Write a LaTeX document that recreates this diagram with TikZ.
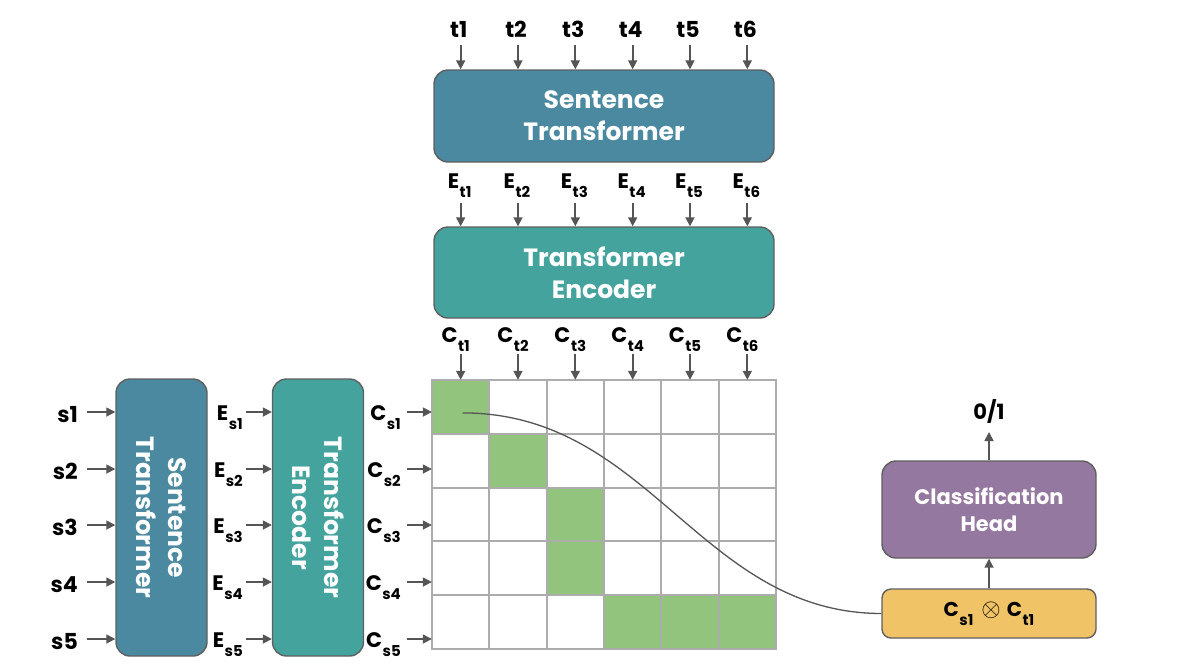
\documentclass[tikz,border=0pt]{standalone}
\usepackage{fontspec}
\setmainfont{Poppins}
\usetikzlibrary{arrows.meta}
\definecolor{stblue}{HTML}{4A89A0}
\definecolor{encteal}{HTML}{45A39E}
\definecolor{headpurple}{HTML}{95789F}
\definecolor{prodyellow}{HTML}{F0C366}
\definecolor{cellgreen}{HTML}{93C47D}
\definecolor{gridgray}{HTML}{ACACAC}
\definecolor{arrowgray}{HTML}{555555}
\definecolor{bordergray}{HTML}{5F5F5F}
\newcommand\subl[2]{#1\kern0.5pt\raisebox{-9pt}{\fontsize{15}{15}\selectfont #2}}
\newcommand\labfont{\fontsize{21}{25}\selectfont\bfseries}
\newcommand\biglabfont{\fontsize{22}{26}\selectfont\bfseries}
\begin{document}
\begin{tikzpicture}[x=1pt,y=-1pt,
  box/.style={draw=bordergray, line width=1.4pt, rounded corners=14pt, text=white,
    align=center, inner sep=0pt},
  bigtext/.style={font=\fontsize{25}{32}\selectfont\bfseries},
  arr/.style={draw=arrowgray, line width=1.7pt, -{Triangle[length=9pt,width=9pt]}},
  lab/.style={font=\labfont, inner sep=0pt},
  biglab/.style={font=\biglabfont, inner sep=0pt},
  cell/.style={fill=white, minimum width=57.33pt, minimum height=53.8pt, inner sep=0pt},
  green/.style={fill=cellgreen},
  gridline/.style={draw=gridgray, line width=1.5pt},
  curve/.style={draw=arrowgray, line width=1.3pt}]
\useasboundingbox (0,0) rectangle (1177,670);

% boxes
\node[box, bigtext, fill=stblue, minimum width=340pt, minimum height=92pt] (tst) at (604,116)
  {Sentence\\Transformer};
\node[box, bigtext, fill=encteal, minimum width=340pt, minimum height=91pt] (tte) at (604,272.5)
  {Transformer\\Encoder};
\node[box, bigtext, fill=stblue, rotate=-90, minimum width=277pt, minimum height=91pt] (lst) at (161.5,517.5)
  {Sentence\\Transformer};
\node[box, bigtext, fill=encteal, rotate=-90, minimum width=277pt, minimum height=91pt] (lte) at (318,517.5)
  {Transformer\\Encoder};
\node[box, font=\fontsize{21}{27}\selectfont\bfseries, fill=headpurple, minimum width=214pt, minimum height=97pt] (head) at (989,509.5)
  {Classification\\Head};
\node[box, rounded corners=9pt, text=black, font=\fontsize{20}{24}\selectfont\bfseries, fill=prodyellow, minimum width=214pt, minimum height=49pt] (prod) at (989,613.5)
  {\subl{C}{s1}\hspace{8pt}{\fontsize{24}{24}\selectfont$\otimes$}\hspace{6pt}\subl{C}{t1}\rule[-8pt]{0pt}{1pt}};

% grid cells (fills)
\foreach \r in {1,...,5}{
  \foreach \c in {1,...,6}{
    \node[cell] (c-\r-\c) at ({432+57.33*(\c-0.5)},{380+53.8*(\r-0.5)}) {};
  }
}
\foreach \r/\c in {1/1,2/2,3/3,4/3,5/4,5/5,5/6}{
  \node[cell, green] (g-\r-\c) at (c-\r-\c) {};
}
% grid lines on top
\foreach \r in {1,...,5}{
  \foreach \c in {1,...,6}{
    \draw[gridline] (c-\r-\c.north west) rectangle (c-\r-\c.south east);
  }
}

% top columns
\foreach \j in {1,...,6}{
  \pgfmathsetmacro\xx{432+57.33*(\j-0.5)}
  \node[biglab, anchor=base] (t\j) at (\xx-2,37) {t\j};
  \coordinate (ta\j) at (\xx,45);
  \draw[arr] (ta\j) -- (ta\j |- tst.north);
  \node[lab, anchor=base] (et\j) at (\xx-1,188) {\subl{E}{t\j}};
  \coordinate (eta\j) at (\xx,203);
  \draw[arr] (eta\j) -- (eta\j |- tte.north);
  \node[lab, anchor=base] (ct\j) at (\xx-5,342) {\subl{C}{t\j}};
  \coordinate (cta\j) at (\xx,354);
  \draw[arr] (cta\j) -- (cta\j |- c-1-\j.north);
}

% left rows (rotated boxes: visual left side is the .south anchor)
\foreach \i/\y in {1/412,2/469,3/525,4/582,5/639}{
  \node[biglab, anchor=base east] (s\i) at (78,\y+10) {s\i};
  \coordinate (sa\i) at (87,\y);
  \draw[arr] (sa\i) -- (sa\i -| lst.south);
  \node[lab, anchor=base east] (es\i) at (243,\y+8) {\subl{E}{s\i}};
  \coordinate (ea\i) at (246,\y);
  \draw[arr] (ea\i) -- (ea\i -| lte.south);
  \node[lab, anchor=base east] (cs\i) at (401,\y+8) {\subl{C}{s\i}};
  \coordinate (ca\i) at (407,\y);
  \draw[arr] (ca\i) -- (ca\i -| c-1-1.west);
}

% curve
\draw[curve] ([yshift=-6pt,xshift=2pt]c-1-1.center) .. controls (650,413) and (700,613) .. (prod.west);

% classification
\draw[arr] (prod.north) -- (head.south);
\coordinate (outtip) at (989,432);
\draw[arr] (head.north) -- (outtip);
\node[lab, anchor=base] (out) at (989,419) {0/1};
\end{tikzpicture}
\end{document}
